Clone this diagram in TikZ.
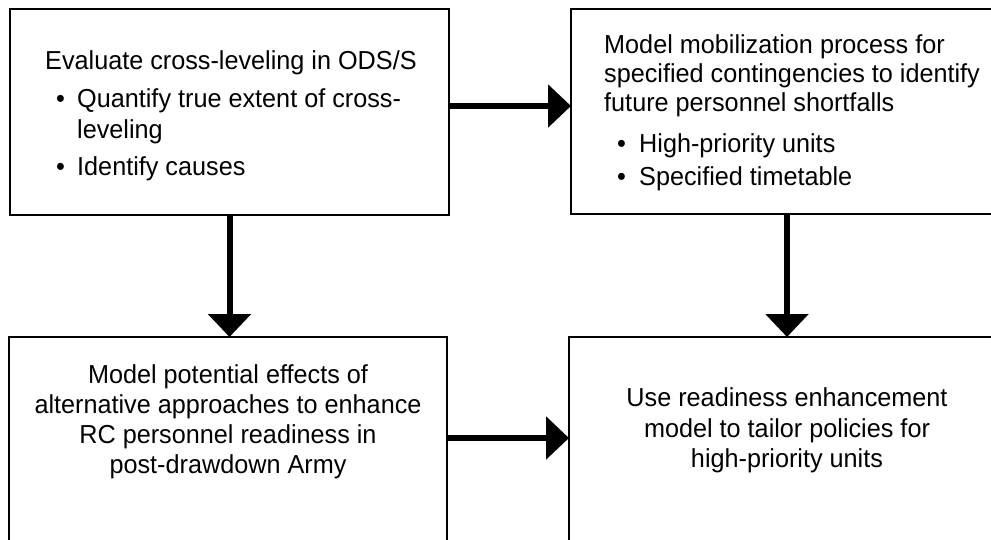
\documentclass[tikz,border=0pt]{standalone}
\usepackage{fontspec}
\setmainfont{Liberation Sans}[FakeStretch=0.97]
\usetikzlibrary{arrows.meta}
\begin{document}
\begin{tikzpicture}[x=1pt,y=-1pt,
  box/.style={draw, line width=1.8pt, inner sep=0pt, outer sep=0pt, anchor=north west},
  txt/.style={font=\fontsize{26}{30}\selectfont, inner sep=0pt, anchor=base west},
  ctxt/.style={font=\fontsize{26}{30}\selectfont, inner sep=0pt, anchor=base},
  arr/.style={line width=6pt, -{Triangle[length=23pt,width=42pt]}}]
\useasboundingbox (0,0) rectangle (991,539);
\clip (0,0) rectangle (991,539);
% boxes
\node[box, minimum width=439pt, minimum height=206pt] (tl) at (10,9) {};
\node[box, minimum width=432pt, minimum height=205pt] (tr) at (571,9) {};
\node[box, minimum width=438pt, minimum height=220pt] (bl) at (9,337) {};
\node[box, minimum width=436pt, minimum height=220pt] (br) at (569,337) {};
% top-left text
\node[txt] (tl1) at (45,69) {Evaluate cross-leveling in ODS/S};
\node[txt] (tlb1) at (56,107) {\textbullet};
\node[txt] (tl2) at (77,107) {Quantify true extent of cross-};
\node[txt] (tl3) at (77,138) {leveling};
\node[txt] (tlb2) at (56,175) {\textbullet};
\node[txt] (tl4) at (77,175) {Identify causes};
% top-right text
\node[txt] (tr1) at (604,53) {Model mobilization process for};
\node[txt] (tr2) at (604,82) {specified contingencies to identify};
\node[txt] (tr3) at (604,111) {future personnel shortfalls};
\node[txt] (trb1) at (617,152) {\textbullet};
\node[txt] (tr4) at (639,152) {High-priority units};
\node[txt] (trb2) at (617,185) {\textbullet};
\node[txt] (tr5) at (639,185) {Specified timetable};
% bottom-left text
\node[ctxt] (bl1) at (228,383) {Model potential effects of};
\node[ctxt] (bl2) at (228,413) {alternative approaches to enhance};
\node[ctxt] (bl3) at (228,443) {RC personnel readiness in};
\node[ctxt] (bl4) at (228,473) {post-drawdown Army};
% bottom-right text
\node[ctxt] (br1) at (787,406) {Use readiness enhancement};
\node[ctxt] (br2) at (787,437) {model to tailor policies for};
\node[ctxt] (br3) at (787,467) {high-priority units};
% arrows
\draw[arr] ([yshift=6pt]tl.east) -- ([yshift=6pt]tl.east -| tr.west);
\draw[arr] ([yshift=9pt]bl.east) -- ([yshift=9pt]bl.east -| br.west);
\draw[arr] (tl.south) -- (tl.south |- bl.north);
\draw[arr] (tr.south) -- (tr.south |- br.north);
\end{tikzpicture}
\end{document}
